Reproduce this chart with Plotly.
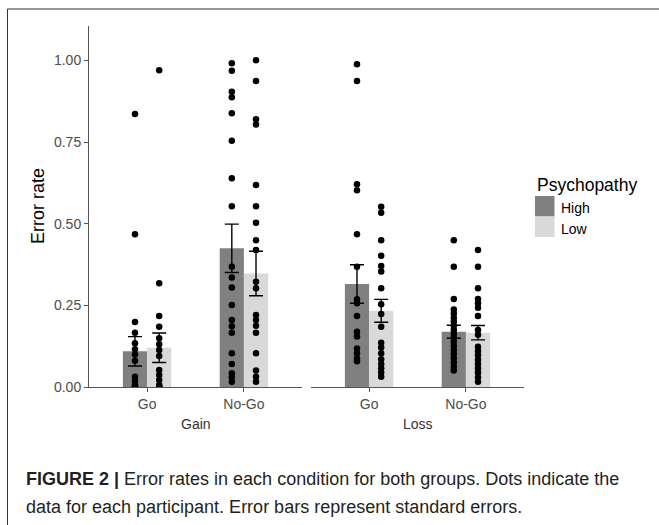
import plotly.graph_objects as go

W, H = 659, 525

conditions = ["Go", "No-Go"]
facets = ["Gain", "Loss"]
groups = ["High", "Low"]

# mean error rates [facet][condition]
mean_high = {"Gain": [0.110, 0.425], "Loss": [0.316, 0.170]}
mean_low = {"Gain": [0.121, 0.348], "Loss": [0.234, 0.167]}
# standard errors
se_high = {"Gain": [0.045, 0.074], "Loss": [0.059, 0.020]}
se_low = {"Gain": [0.045, 0.068], "Loss": [0.035, 0.022]}

# participant data (visible dots)
gain_go_high = [0.836, 0.468, 0.200, 0.167, 0.135, 0.116, 0.100, 0.081, 0.032, 0.020, 0.007, 0, 0, 0, 0, 0, 0, 0, 0]
gain_go_low = [0.970, 0.318, 0.218, 0.185, 0.150, 0.132, 0.114, 0.096, 0.053, 0.038, 0.022, 0.007, 0, 0, 0, 0, 0, 0]
gain_nogo_high = [0.991, 0.968, 0.904, 0.887, 0.838, 0.754, 0.639, 0.554, 0.369, 0.336, 0.305, 0.252,
                  0.206, 0.187, 0.167, 0.104, 0.071, 0.043, 0.031, 0.017]
gain_nogo_low = [1.000, 0.937, 0.820, 0.804, 0.619, 0.554, 0.503, 0.450, 0.420, 0.323, 0.303, 0.221,
                 0.206, 0.188, 0.167, 0.104, 0.051, 0.032, 0.017]
loss_go_high = [0.988, 0.937, 0.621, 0.603, 0.468, 0.369, 0.269, 0.257, 0.218, 0.170, 0.155, 0.119,
                0.104, 0.089, 0.080]
loss_go_low = [0.552, 0.534, 0.450, 0.402, 0.371, 0.354, 0.303, 0.254, 0.224, 0.185, 0.136, 0.122,
               0.104, 0.086, 0.071, 0.058, 0.045, 0.032]
loss_nogo_high = [0.450, 0.369, 0.270, 0.238, 0.226, 0.213, 0.201, 0.188, 0.175, 0.163, 0.151, 0.139,
                  0.127, 0.114, 0.102, 0.089, 0.076, 0.063, 0.051]
loss_nogo_low = [0.420, 0.369, 0.303, 0.270, 0.257, 0.243, 0.218, 0.175, 0.161, 0.124, 0.111, 0.098,
                 0.084, 0.071, 0.058, 0.045, 0.031, 0.017]

dots = {
    ("Gain", "High"): [gain_go_high, gain_nogo_high],
    ("Gain", "Low"): [gain_go_low, gain_nogo_low],
    ("Loss", "High"): [loss_go_high, loss_nogo_high],
    ("Loss", "Low"): [loss_go_low, loss_nogo_low],
}

colors = {"High": "#808080", "Low": "#d9d9d9"}
offsets = {"High": -0.125, "Low": 0.125}
means = {"High": mean_high, "Low": mean_low}
ses = {"High": se_high, "Low": se_low}

fig = go.Figure()
cat_pos = [1, 2]

for fi, fac in enumerate(facets):
    xa = "x" if fi == 0 else "x2"
    for g in groups:
        fig.add_trace(go.Bar(
            x=cat_pos, y=means[g][fac], width=0.25, offset=offsets[g] - 0.125,
            marker=dict(color=colors[g], line=dict(width=0)),
            name=g, legendgroup=g, showlegend=False,
            xaxis=xa, yaxis="y"))
    for g in groups:
        xs, ys = [], []
        for ci, vals in enumerate(dots[(fac, g)]):
            xs += [cat_pos[ci] + offsets[g]] * len(vals)
            ys += vals
        fig.add_trace(go.Scatter(
            x=xs, y=ys, mode="markers",
            marker=dict(color="black", size=6.5),
            showlegend=False, xaxis=xa, yaxis="y", hoverinfo="skip"))
    for g in groups:
        fig.add_trace(go.Scatter(
            x=[c + offsets[g] for c in cat_pos], y=means[g][fac], mode="markers",
            marker=dict(size=1, opacity=0),
            error_y=dict(type="data", array=ses[g][fac], color="black", thickness=1.4, width=7),
            showlegend=False, xaxis=xa, yaxis="y", hoverinfo="skip"))

def px_x(p):
    return p / W

def px_y(p):
    return 1 - p / H

axis_col = "#555555"
FONT = "Liberation Sans, Arial, sans-serif"
tick_font = dict(family=FONT, size=14, color="#4d4d4d")

xcommon = dict(range=[0.4, 2.6], tickvals=cat_pos, ticktext=conditions, showline=True,
               linecolor=axis_col, linewidth=1, ticks="outside", ticklen=4, tickcolor=axis_col,
               showgrid=False, zeroline=False, tickfont=tick_font, anchor="y", fixedrange=True,
               automargin=False)

fig.update_layout(
    template="none",
    width=W, height=H, autosize=False,
    margin=dict(l=0, r=0, t=0, b=0, pad=0, autoexpand=False),
    paper_bgcolor="white", plot_bgcolor="white",
    barmode="overlay",
    font=dict(family=FONT, color="black"),
    xaxis=dict(domain=[px_x(89), px_x(302)], **xcommon),
    xaxis2=dict(domain=[px_x(311), px_x(524)], **xcommon),
    yaxis=dict(domain=[px_y(387.3), px_y(26)], range=[0, 1.105], anchor="x",
               tickvals=[0, 0.25, 0.5, 0.75, 1.0], tickformat=".2f", automargin=False,
               showline=True, linecolor=axis_col, linewidth=1, ticks="outside", ticklen=4,
               tickcolor=axis_col, showgrid=False, zeroline=False, tickfont=tick_font),
    showlegend=False,
)

annots = [
    dict(text="Error rate", x=px_x(38), y=px_y(206), textangle=-90, font=dict(size=18, color="black")),
    dict(text="Gain", x=px_x(195.5), y=px_y(424), font=dict(size=14, color="#333333")),
    dict(text="Loss", x=px_x(417.5), y=px_y(424), font=dict(size=14, color="#333333")),
    dict(text="Psychopathy", x=px_x(535), y=px_y(185), xanchor="left", font=dict(size=17.5, color="black")),
    dict(text="High", x=px_x(559), y=px_y(208), xanchor="left", font=dict(size=14, color="black")),
    dict(text="Low", x=px_x(559), y=px_y(229), xanchor="left", font=dict(size=14, color="black")),
    dict(text="<b>FIGURE 2 |</b> Error rates in each condition for both groups. Dots indicate the",
         x=px_x(24), y=px_y(479), xanchor="left", font=dict(size=18, color="#231f20")),
    dict(text="data for each participant. Error bars represent standard errors.",
         x=px_x(24), y=px_y(507), xanchor="left", font=dict(size=18, color="#231f20")),
]
for a in annots:
    base = dict(xref="paper", yref="paper", showarrow=False, xanchor="center", yanchor="middle")
    base.update(a)
    fig.add_annotation(**base)

# legend keys
for g, (t, b) in zip(groups, [(196, 216.5), (216.5, 237)]):
    fig.add_shape(type="rect", xref="paper", yref="paper",
                  x0=px_x(535), x1=px_x(554.5), y0=px_y(b), y1=px_y(t),
                  fillcolor=colors[g], line=dict(width=0))

# figure frame (left and top edges)
fig.add_shape(type="line", xref="paper", yref="paper", x0=px_x(7.5), x1=px_x(7.5),
              y0=px_y(9), y1=px_y(540), line=dict(color="#333333", width=1))
fig.add_shape(type="line", xref="paper", yref="paper", x0=px_x(7.5), x1=px_x(670),
              y0=px_y(9), y1=px_y(9), line=dict(color="#333333", width=1))

fig.write_html("out.html")
